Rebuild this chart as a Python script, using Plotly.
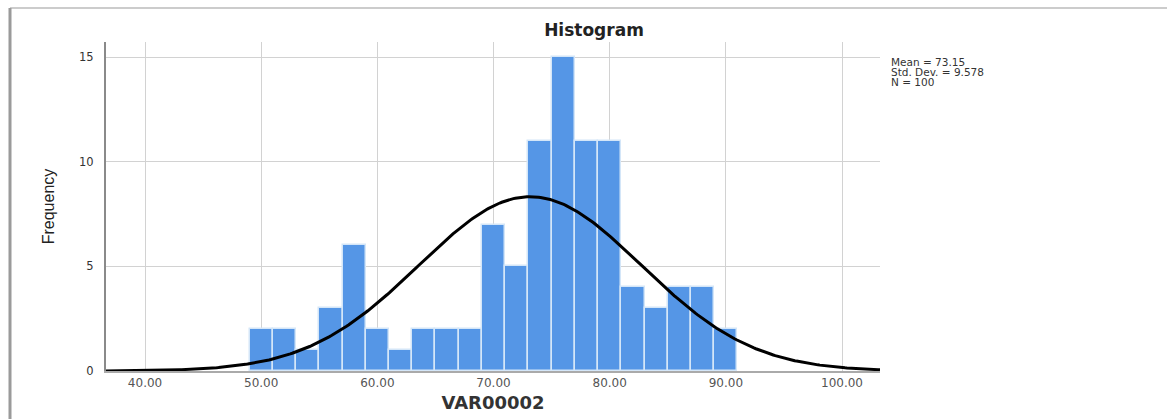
import numpy as np
import plotly.graph_objects as go

# ---- data ----
bin_start = 49.0
bin_width = 2.0
counts = [2, 2, 1, 3, 6, 2, 1, 2, 2, 2, 7, 5, 11, 15, 11, 11, 4, 3, 4, 4, 2]
mean = 73.15
std_dev = 9.578
n_obs = 100
x_tick_vals = [40, 50, 60, 70, 80, 90, 100]
x_tick_text = ["40.00", "50.00", "60.00", "70.00", "80.00", "90.00", "100.00"]
y_tick_vals = [0, 5, 10, 15]
stats_lines = [f"Mean = {mean:.2f}", f"Std. Dev. = {std_dev:.3f}", f"N = {n_obs}"]

# ---- geometry ----
W, H = 1167, 419
L, R, T, B = 106, 880, 42, 371
x_range = [36.64, 103.27]
y_range = [0, 15.72]

centers = [bin_start + bin_width * (i + 0.5) for i in range(len(counts))]

# fitted normal curve scaled to counts
xc = np.linspace(x_range[0], x_range[1], 400)
yc = n_obs * bin_width / (std_dev * np.sqrt(2 * np.pi)) * np.exp(-0.5 * ((xc - mean) / std_dev) ** 2)

fig = go.Figure()
fig.add_trace(go.Bar(
    x=centers, y=counts, width=bin_width,
    marker=dict(color="#5596E6", line=dict(color="#D4E6F8", width=1.5)),
    hoverinfo="x+y", showlegend=False,
))
fig.add_trace(go.Scatter(
    x=xc, y=yc, mode="lines",
    line=dict(color="#000000", width=3), showlegend=False, hoverinfo="skip",
))

def px_to_paper_x(px):
    return (px - L) / (R - L)

def px_to_paper_y(py):
    return (B - py) / (B - T)

# image frame lines
shapes = [
    dict(type="line", xref="paper", yref="paper",
         x0=px_to_paper_x(10), x1=px_to_paper_x(1167), y0=px_to_paper_y(8), y1=px_to_paper_y(8),
         line=dict(color="#BBBBBB", width=1.5)),
    dict(type="line", xref="paper", yref="paper",
         x0=px_to_paper_x(10), x1=px_to_paper_x(10), y0=px_to_paper_y(8), y1=px_to_paper_y(419),
         line=dict(color="#9A9A9A", width=3)),
]

annotations = []
for i, line in enumerate(stats_lines):
    annotations.append(dict(
        text=line, xref="paper", yref="paper",
        x=px_to_paper_x(889), y=px_to_paper_y(62 + 10 * i),
        xanchor="left", yanchor="middle", showarrow=False,
        font=dict(family="DejaVu Sans", size=10.5, color="#333333"),
    ))

fig.update_layout(
    width=W, height=H,
    margin=dict(l=L, r=W - R, t=T, b=H - B, pad=0),
    paper_bgcolor="white", plot_bgcolor="white",
    bargap=0,
    title=dict(text="<b>Histogram</b>", x=594 / W, xref="container", xanchor="center",
               y=1 - 30 / H, yref="container", yanchor="middle",
               font=dict(family="DejaVu Sans", size=17, color="#222222")),
    xaxis=dict(range=x_range, tickvals=x_tick_vals, ticktext=x_tick_text,
               showgrid=True, gridcolor="#D2D2D2", gridwidth=1,
               showline=True, linecolor="#AAAAAA", linewidth=1.5,
               zeroline=False, ticks="", automargin=False,
               tickfont=dict(family="DejaVu Sans", size=12, color="#555555"),
               title=dict(text="<b>VAR00002</b>", standoff=7,
                          font=dict(family="DejaVu Sans", size=18, color="#333333"))),
    yaxis=dict(range=y_range, tickvals=y_tick_vals,
               showgrid=True, gridcolor="#D2D2D2", gridwidth=1,
               showline=True, linecolor="#8A8A8A", linewidth=2,
               zeroline=False, ticks="", ticklabelstandoff=8, automargin=False,
               tickfont=dict(family="DejaVu Sans", size=11.5, color="#333333"),
               title=dict(text="Frequency", standoff=20,
                          font=dict(family="Liberation Sans", size=16, color="#222222"))),
    shapes=shapes,
    annotations=annotations,
)

fig.write_html("out.html")
